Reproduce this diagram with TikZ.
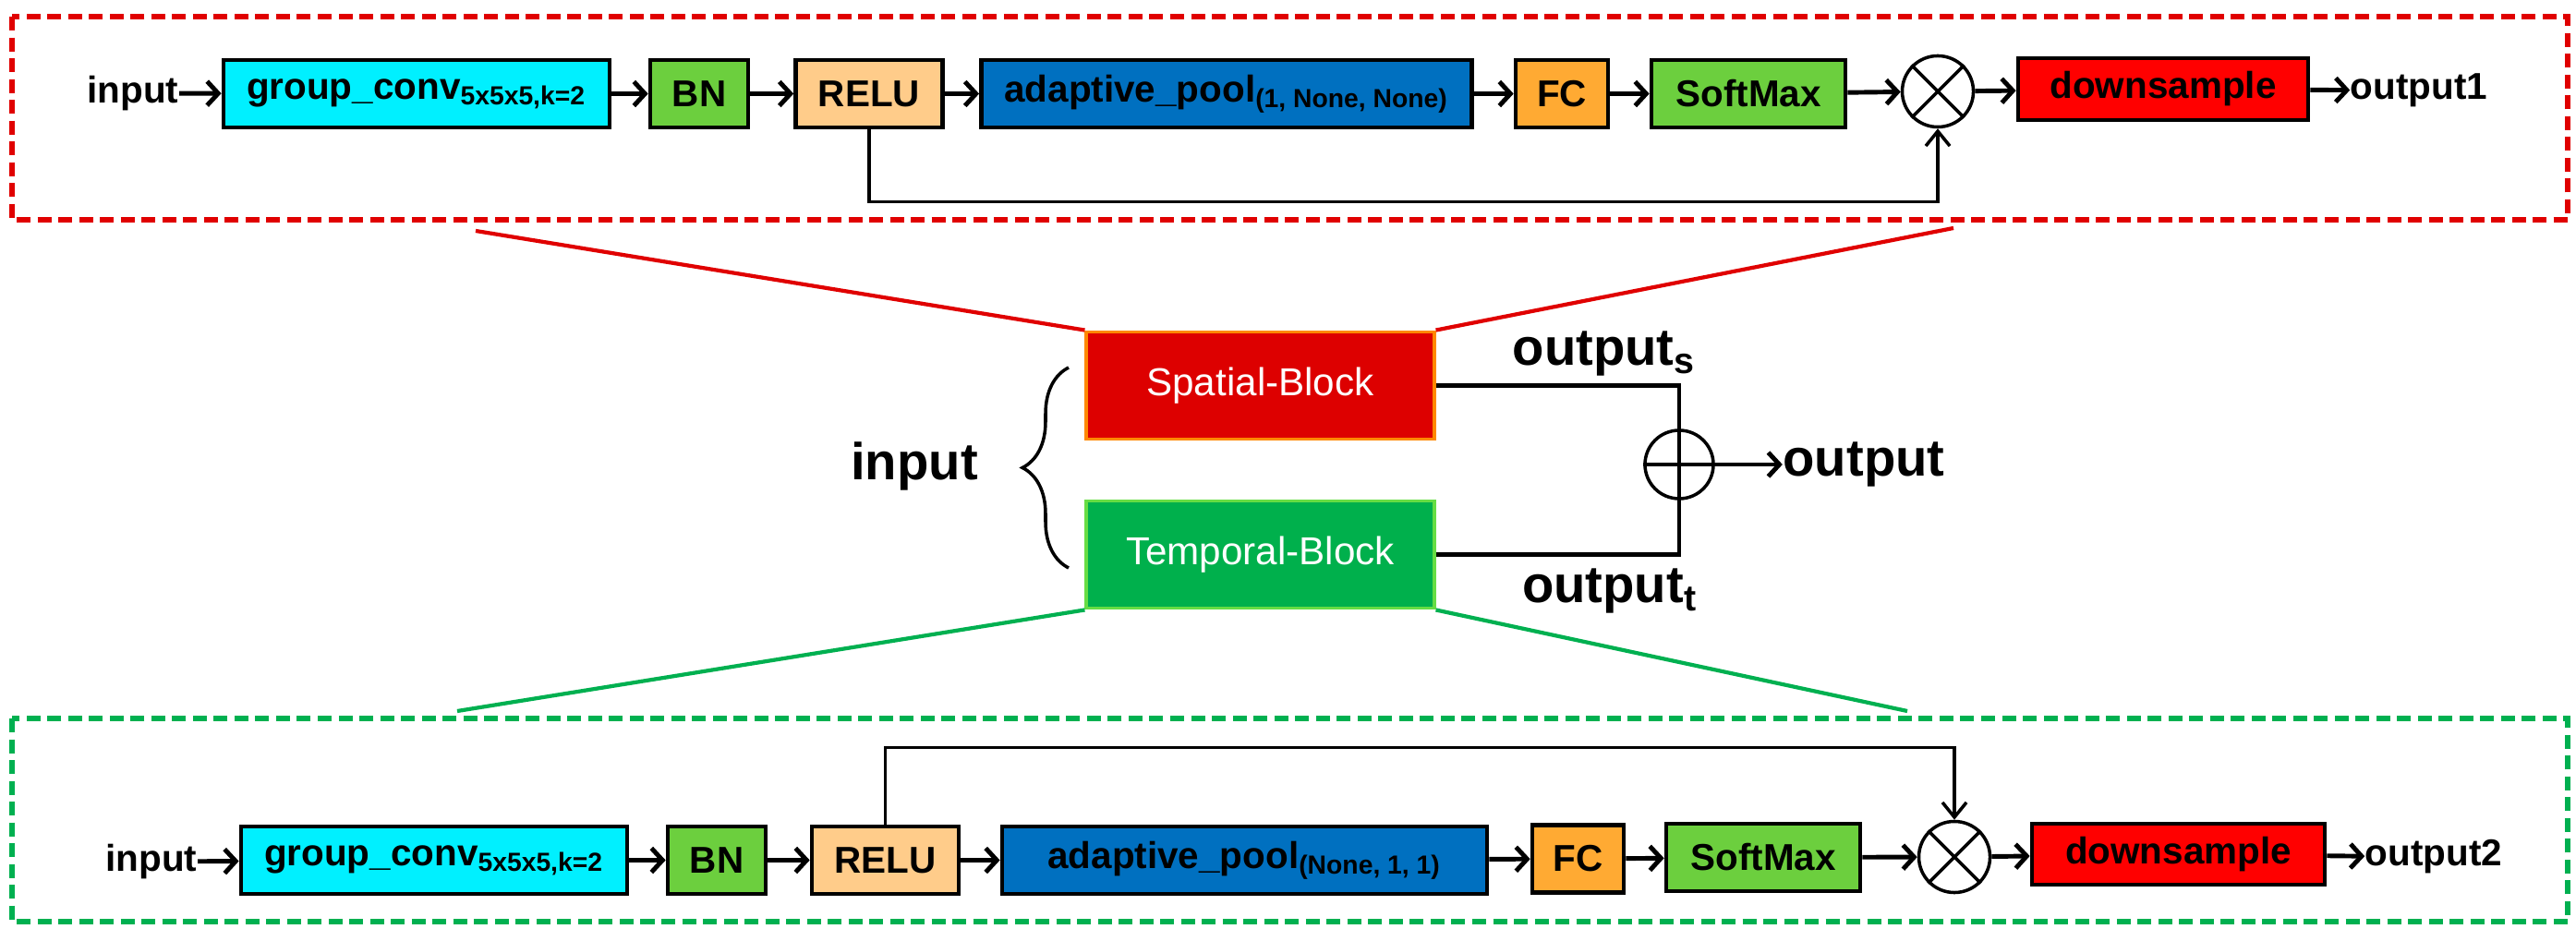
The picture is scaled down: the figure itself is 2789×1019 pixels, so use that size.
\documentclass[tikz,border=0pt]{standalone}
\usepackage{fontspec}
\setmainfont{Liberation Sans}
\usetikzlibrary{arrows.meta,decorations.pathreplacing}
\definecolor{ConvCyan}{HTML}{00F0FF}
\definecolor{BNGreen}{HTML}{6CCF3E}
\definecolor{ReluPeach}{HTML}{FFCC8A}
\definecolor{PoolBlue}{HTML}{0070C0}
\definecolor{FCOrange}{HTML}{FFAA33}
\definecolor{DownRed}{HTML}{FF0000}
\definecolor{SpatialRed}{HTML}{DD0000}
\definecolor{SpatialEdge}{HTML}{FF8800}
\definecolor{TemporalGreen}{HTML}{00B04C}
\definecolor{TemporalEdge}{HTML}{66DD44}
\definecolor{FrameRed}{HTML}{E00000}
\definecolor{FrameGreen}{HTML}{00B050}
\tikzset{
  % boxes of the two detailed branches
  layer/.style={draw=black, line width=1.3pt, minimum height=0.73cm, inner sep=0pt,
    font=\bfseries\fontsize{11.5}{13}\selectfont},
  lbl/.style={inner sep=0pt, font=\bfseries\fontsize{11.5}{13}\selectfont},
  biglbl/.style={inner sep=0pt, font=\bfseries\fontsize{16}{18}\selectfont},
  block/.style={line width=1.1pt, minimum width=3.76cm, minimum height=1.16cm, inner sep=0pt,
    text=white, font=\fontsize{12}{14}\selectfont},
  op/.style={circle, draw=black, line width=1pt, minimum size=0.77cm, inner sep=0pt},
  flow/.style={-{Straight Barb[length=1.2mm,width=2.6mm]}, line width=1.4pt},
  skip/.style={-{Straight Barb[length=1.6mm,width=2.6mm]}, line width=1pt},
  frame/.style={line width=1.7pt, dash pattern=on 0.15cm off 0.075cm},
  link/.style={line width=1.2pt},
}
\begin{document}
\begin{tikzpicture}[x=0.01cm, y=-0.01cm]
    \useasboundingbox (0,0) rectangle (2789,1019);

    % Spatial branch in detail (top)
    \draw[frame, FrameRed] (13,18) rectangle (2780,238);
    \node[lbl] (in1) at (144,101) {input};
    \node[layer, fill=ConvCyan, minimum width=4.18cm] (gc1) at (451,101.5) {group\_conv\textsubscript{5x5x5,k=2}};
    \node[layer, fill=BNGreen, minimum width=1.06cm] (bn1) at (757,101.5) {BN};
    \node[layer, fill=ReluPeach, minimum width=1.59cm] (relu1) at (941,101.5) {RELU};
    \node[layer, fill=PoolBlue, minimum width=5.31cm] (ap1) at (1328,101.5) {adaptive\_pool\textsubscript{(1, None, None)}};
    \node[layer, fill=FCOrange, minimum width=1.0cm] (fc1) at (1691,101.5) {FC};
    \node[layer, fill=BNGreen, minimum width=2.1cm] (sm1) at (1893,101.5) {SoftMax};
    \node[op] (mul1) at (2098,99) {};
    \draw[line width=1pt] (mul1.north east) -- (mul1.south west) (mul1.north west) -- (mul1.south east);
    \node[layer, fill=DownRed, minimum width=3.14cm, minimum height=0.67cm] (ds1) at (2342,96.5) {downsample};
    \node[lbl] (out1) at (2619,98) {output1};

    \draw[flow] (in1) -- (gc1);
    \draw[flow] (gc1) -- (bn1);
    \draw[flow] (bn1) -- (relu1);
    \draw[flow] (relu1) -- (ap1);
    \draw[flow] (ap1) -- (fc1);
    \draw[flow] (fc1) -- (sm1);
    \draw[flow] (sm1) -- (mul1);
    \draw[flow] (mul1) -- (ds1);
    \draw[flow] (ds1) -- (out1);
    \draw[skip] (relu1.south) -- ++(0,78) -| (mul1.south);

    % Overview: the two blocks
    \node[block, fill=SpatialRed, draw=SpatialEdge] (sp) at (1364.5,417.5) {Spatial-Block};
    \node[block, fill=TemporalGreen, draw=TemporalEdge] (tp) at (1364.5,600.5) {Temporal-Block};
    \node[biglbl] (in) at (990,505) {input};
    \coordinate (braceB) at (1157,615);
    \coordinate (braceT) at (1157,398);
    \draw[decorate, decoration={brace, amplitude=0.5cm}, line width=1pt] (braceB) -- (braceT);
    \node[op, minimum size=0.74cm] (add) at (1818,503) {};
    \draw[line width=1pt] (add.north) -- (add.south) (add.west) -- (add.east);
    \node[biglbl] (outs) at (1737,383) {output\textsubscript{s}};
    \node[biglbl] (outt) at (1743,640) {output\textsubscript{t}};
    \node[biglbl] (out) at (2018,503) {output};
    \draw[link] (sp.east) -| (add.north);
    \draw[link] (tp.east) -| (add.south);
    \draw[flow] (add.east) -- (out);

    % Legs linking the blocks to their details
    \coordinate (redL) at (515,250);
    \coordinate (redR) at (2115,247);
    \coordinate (greenL) at (495,770);
    \coordinate (greenR) at (2065,770);
    \draw[link, FrameRed] (redL) -- (sp.north west);
    \draw[link, FrameRed] (redR) -- (sp.north east);
    \draw[link, FrameGreen] (tp.south west) -- (greenL);
    \draw[link, FrameGreen] (tp.south east) -- (greenR);

    % Temporal branch in detail (bottom)
    \draw[frame, FrameGreen] (13,778) rectangle (2780,998);
    \node[lbl] (in2) at (164,933) {input};
    \node[layer, fill=ConvCyan, minimum width=4.18cm] (gc2) at (470,931.5) {group\_conv\textsubscript{5x5x5,k=2}};
    \node[layer, fill=BNGreen, minimum width=1.06cm] (bn2) at (776,931.5) {BN};
    \node[layer, fill=ReluPeach, minimum width=1.59cm] (relu2) at (958.5,931.5) {RELU};
    \node[layer, fill=PoolBlue, minimum width=5.25cm] (ap2) at (1347.5,931.5) {adaptive\_pool\textsubscript{(None, 1, 1)}};
    \node[layer, fill=FCOrange, minimum width=0.99cm] (fc2) at (1708.5,930) {FC};
    \node[layer, fill=BNGreen, minimum width=2.1cm] (sm2) at (1909,928.5) {SoftMax};
    \node[op] (mul2) at (2116,928) {};
    \draw[line width=1pt] (mul2.north east) -- (mul2.south west) (mul2.north west) -- (mul2.south east);
    \node[layer, fill=DownRed, minimum width=3.17cm, minimum height=0.66cm] (ds2) at (2358.5,925) {downsample};
    \node[lbl] (out2) at (2635,928) {output2};

    \draw[flow] (in2) -- (gc2);
    \draw[flow] (gc2) -- (bn2);
    \draw[flow] (bn2) -- (relu2);
    \draw[flow] (relu2) -- (ap2);
    \draw[flow] (ap2) -- (fc2);
    \draw[flow] (fc2) -- (sm2);
    \draw[flow] (sm2) -- (mul2);
    \draw[flow] (mul2) -- (ds2);
    \draw[flow] (ds2) -- (out2);
    \draw[skip] (relu2.north) -- ++(0,-83) -| (mul2.north);

\end{tikzpicture}
\end{document}
